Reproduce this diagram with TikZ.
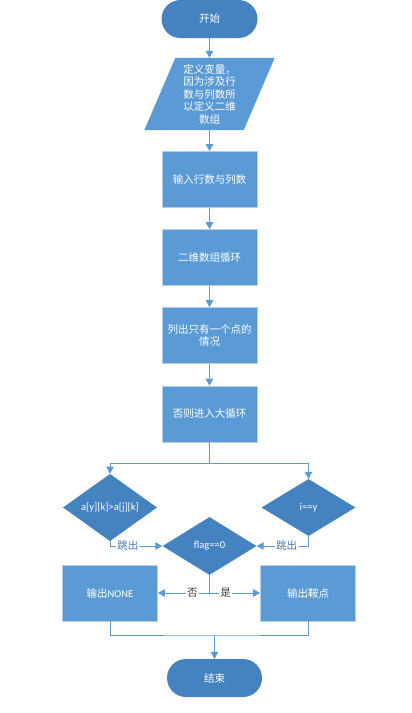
\documentclass[tikz,border=0pt]{standalone}
\usepackage{fontspec}
\setmainfont{Carlito}
\newfontfamily\cjk{Noto Sans CJK SC}
\newfontfamily\lat{Carlito}
\usetikzlibrary{shapes.geometric,arrows.meta}
\definecolor{boxblue}{HTML}{5B9BD5}
\definecolor{darkblue}{HTML}{4582C0}
\definecolor{edgeblue}{HTML}{B7CDE4}
\definecolor{lineblue}{HTML}{5B9BD5}
\definecolor{jumptext}{HTML}{4A78A8}
\definecolor{ynText}{HTML}{404040}
\tikzset{
  x=1pt, y=-1pt,
  base/.style={inner sep=0pt, text=white, align=center,
    font=\cjk\fontsize{10.5}{12.5}\selectfont},
  procbox/.style={base, rectangle, fill=boxblue, draw=edgeblue, line width=0.7pt,
    minimum width=95pt, minimum height=56pt},
  termbox/.style={base, rectangle, rounded corners=19pt, fill=darkblue,
    minimum width=96pt, minimum height=38pt},
  decbox/.style={base, diamond, fill=darkblue, minimum width=94pt, minimum height=57pt},
  arr/.style={draw=lineblue, line width=1pt, -{Triangle[width=7.5pt,length=7pt]}},
  ln/.style={draw=lineblue, line width=1pt},
  jumplbl/.style={fill=white, inner sep=1.5pt, text=jumptext,
    font=\cjk\fontsize{10.5}{12.5}\selectfont},
  ynlbl/.style={fill=white, inner sep=1.5pt, text=ynText,
    font=\cjk\fontsize{10.5}{12.5}\selectfont},
}
\begin{document}
\begin{tikzpicture}
\fill[white] (0,0) rectangle (412,713);
\useasboundingbox (0,0) rectangle (412,713);

\node[termbox] (start) at (209.5,19) {开始};

\node[base, minimum width=99pt, minimum height=72pt] (def) at (209.5,94) {};
\fill[boxblue] ([xshift=15.5pt]def.north west) -- ([xshift=15.5pt]def.north east)
  -- ([xshift=-15.5pt]def.south east) -- ([xshift=-15.5pt]def.south west) -- cycle;
\node[base] (deftext) at (def.center) {定义变量，\\因为涉及行\\数与列数所\\以定义二维\\数组};

\node[procbox] (b1) at (209.5,179.5) {输入行数与列数};
\node[procbox] (b2) at (209.5,257.5) {二维数组循环};
\node[procbox] (b3) at (209.5,335.5) {列出只有一个点的\\情况};
\node[procbox] (b4) at (209.5,414) {否则进入大循环};

\node[decbox] (dl) at (110,507.5) {{\lat a[y][k]>a[j][k]}};
\node[decbox] (dr) at (308.5,507.5) {{\lat i==y}};
\node[decbox, minimum height=58pt] (df) at (209.5,546) {{\lat flag==0}};

\node[procbox] (ol) at (110,593) {输出{\lat NONE}};
\node[procbox] (or) at (308,593) {输出鞍点};

\node[termbox, minimum width=95pt] (end) at (214.5,678) {结束};

\coordinate (j1) at (209.5,463);
\coordinate (j2) at (209.5,593);
\coordinate (j3) at (214.5,635);

\draw[arr] (start.south) -- (def.north);
\draw[arr] (def.south) -- (b1.north);
\draw[arr] (b1.south) -- (b2.north);
\draw[arr] (b2.south) -- (b3.north);
\draw[arr] (b3.south) -- (b4.north);
\draw[ln] (b4.south) -- (j1);
\draw[arr] (j1) -| (dl.north);
\draw[arr] (j1) -| (dr.north);
\draw[arr] (dl.south) |- node[jumplbl, pos=0.67] {跳出} (df.west);
\draw[arr] (dr.south) |- node[jumplbl, pos=0.71] {跳出} (df.east);
\draw[ln] (df.south) -- (j2);
\draw[arr] (j2) -- node[ynlbl, pos=0.33] {否} (ol.east);
\draw[arr] (j2) -- node[ynlbl, pos=0.32] {是} (or.west);
\draw[ln] (ol.south) |- (j3) -| (or.south);
\draw[arr] (j3) -- (end.north);
\end{tikzpicture}
\end{document}
